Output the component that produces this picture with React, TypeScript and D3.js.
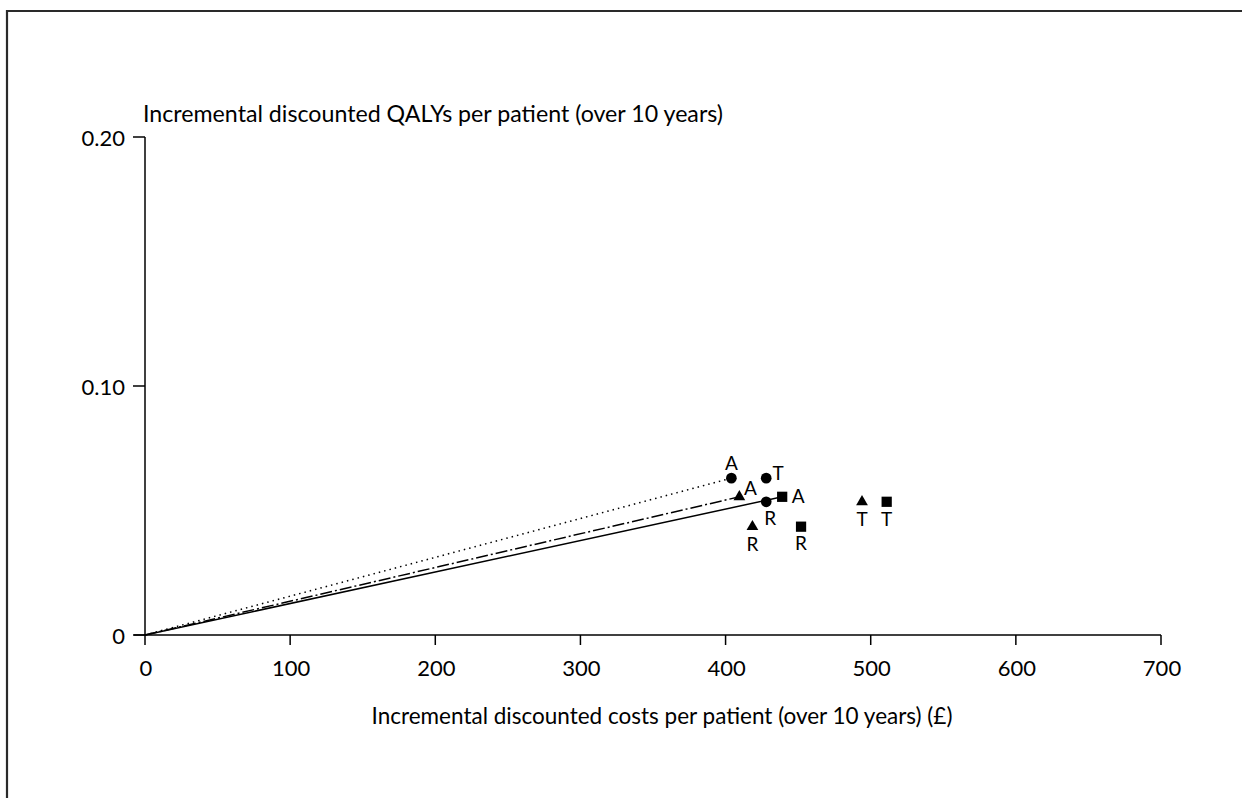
import React from 'react';
import * as d3 from 'd3';

// incremental cost (£) and QALYs, one list per marker shape
const circleCosts = [404, 428, 428];
const circleQalys = [0.063, 0.063, 0.0535];
const circleLabels = ['A', 'T', 'R'];

const triangleCosts = [409.5, 418.5, 494];
const triangleQalys = [0.0555, 0.0435, 0.0535];
const triangleLabels = ['A', 'R', 'T'];

const squareCosts = [439, 452, 511];
const squareQalys = [0.0555, 0.0435, 0.0535];
const squareLabels = ['A', 'R', 'T'];

const xTicks = [0, 100, 200, 300, 400, 500, 600, 700];
const yTicks = [0, 0.1, 0.2];
const yTickLabels = ['0', '0.10', '0.20'];

const font = 'Lato, "Open Sans", sans-serif';

// label offset (dx, dy) around each marker
const labelOffset: Record<string, [number, number]> = {
  'circle-A': [0, -15],
  'circle-T': [12, -5],
  'circle-R': [4, 17],
  'triangle-A': [11, -8],
  'triangle-R': [0, 18],
  'triangle-T': [0, 18],
  'square-A': [16, 0],
  'square-R': [0, 17],
  'square-T': [0, 18],
};

const App = () => {
  const width = 1242;
  const height = 798;

  const x = d3.scaleLinear().domain([0, 700]).range([145, 1161]);
  const y = d3.scaleLinear().domain([0, 0.2]).range([635, 137]);

  const series = [
    { shape: 'circle', sym: d3.symbolCircle, size: 90, costs: circleCosts, qalys: circleQalys, labels: circleLabels },
    { shape: 'triangle', sym: d3.symbolTriangle, size: 60, costs: triangleCosts, qalys: triangleQalys, labels: triangleLabels },
    { shape: 'square', sym: d3.symbolSquare, size: 105, costs: squareCosts, qalys: squareQalys, labels: squareLabels },
  ];

  const line = d3.line<[number, number]>().x((d) => x(d[0])).y((d) => y(d[1]));

  // rays from the origin to the "A" point of each shape
  const rays = [
    { pts: [[0, 0], [circleCosts[0], circleQalys[0]]] as [number, number][], dash: '1.5,4' },
    { pts: [[0, 0], [triangleCosts[0], triangleQalys[0]]] as [number, number][], dash: '12,3,2,3' },
    { pts: [[0, 0], [squareCosts[0], squareQalys[0]]] as [number, number][], dash: null },
  ];

  return (
    <svg
      width={width}
      height={height}
      style={{ position: 'absolute', left: 0, top: 0, background: '#fff' }}
      fontFamily={font}
    >
      <path d={`M7,${height + 5} V11 H${width + 5}`} fill="none" stroke="#2a2a2a" strokeWidth={2.2} />

      {/* axes */}
      <line x1={134} x2={x(700)} y1={y(0)} y2={y(0)} stroke="#000" strokeWidth={1.5} />
      <line x1={x(0)} x2={x(0)} y1={y(0.2)} y2={y(0)} stroke="#000" strokeWidth={1.5} />
      {xTicks.map((t) => (
        <g key={'x' + t}>
          <line x1={x(t)} x2={x(t)} y1={y(0)} y2={y(0) + 10} stroke="#000" strokeWidth={1.5} />
          <text x={x(t) + 1} y={y(0) + 41} textAnchor="middle" fontSize={22}>{t}</text>
        </g>
      ))}
      {yTicks.map((t, i) => (
        <g key={'y' + t}>
          <line x1={x(0) - 12} x2={x(0)} y1={y(t)} y2={y(t)} stroke="#000" strokeWidth={1.5} />
          <text x={x(0) - 20} y={y(t) + 1} dy="0.35em" textAnchor="end" fontSize={22}>{yTickLabels[i]}</text>
        </g>
      ))}
      <text x={143} y={122} fontSize={23.2}>Incremental discounted QALYs per patient (over 10 years)</text>
      <text x={662} y={724} textAnchor="middle" fontSize={22.5}>Incremental discounted costs per patient (over 10 years) (£)</text>

      {rays.map((r, i) => (
        <path key={'r' + i} d={line(r.pts) || ''} fill="none" stroke="#000" strokeWidth={1.5}
          strokeDasharray={r.dash || undefined} />
      ))}

      {series.map((s) =>
        s.costs.map((c, i) => {
          const cx = x(c);
          const cy = y(s.qalys[i]);
          const off = labelOffset[s.shape + '-' + s.labels[i]] || [0, 16];
          return (
            <g key={s.shape + i}>
              <path d={d3.symbol(s.sym, s.size)() || ''} transform={`translate(${cx},${cy})`} fill="#000" />
              <text x={cx + off[0]} y={cy + off[1]} dy="0.35em" textAnchor="middle" fontSize={19}>
                {s.labels[i]}
              </text>
            </g>
          );
        })
      )}
    </svg>
  );
};

export default App;
